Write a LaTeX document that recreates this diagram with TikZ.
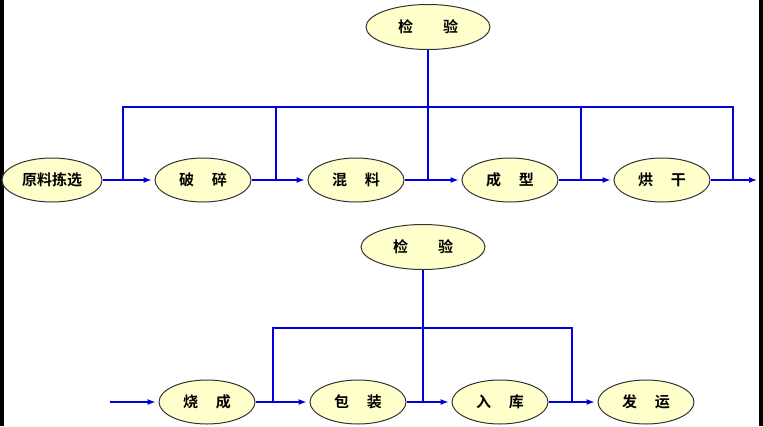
\documentclass[tikz,border=0pt]{standalone}
\usepackage{fontspec}
\newfontfamily\cjk{Noto Sans CJK SC Bold}
\usetikzlibrary{arrows.meta,shapes.geometric}
\definecolor{stepfill}{RGB}{255,255,204}
\definecolor{flowblue}{RGB}{0,0,220}
\tikzset{
  >={Latex[length=8pt,width=6pt]},
  stage/.style={ellipse, draw=black!80, line width=1pt, fill=stepfill,
                minimum width=96pt, minimum height=44pt, inner sep=0pt, font=\cjk\fontsize{15}{15}\selectfont},
  check/.style={stage, minimum width=124pt, minimum height=45pt},
  flow/.style={draw=flowblue, line width=1.1pt},
}
\begin{document}
\begin{tikzpicture}[x=1pt,y=-1pt]
\fill[black] (0,0) rectangle (763,426);
\fill[white] (4,0) rectangle (759,426);
\useasboundingbox (0,0) rectangle (763,426);

% Top row
\node[check] (check1) at (428,27) {检\hspace{2em}验};
\node[stage, minimum width=100pt] (pick) at (52,180) {原料拣选};
\node[stage] (crush) at (203,180) {破\hspace{1.2em}碎};
\node[stage] (mix) at (356,180) {混\hspace{1.2em}料};
\node[stage] (shape) at (510,180) {成\hspace{1.2em}型};
\node[stage] (dry) at (662,180) {烘\hspace{1.2em}干};
\coordinate (out1) at (760,180);

\foreach \a/\b in {pick/crush, crush/mix, mix/shape, shape/dry, dry/out1}
  \draw[flow,->,shorten >=3pt] (\a.east) -- (\b.west |- \a.east) ;
\draw[flow] (check1.south) -- (428,107);
\draw[flow] (123,180) -- (123,107) -- (733,107) -- (733,180);
\foreach \x in {276,428,581}
  \draw[flow] (\x,107) -- (\x,180);

% Bottom row
\node[check] (check2) at (423,247) {检\hspace{2em}验};
\node[stage] (fire) at (207,402) {烧\hspace{1.2em}成};
\node[stage] (pack) at (358,402) {包\hspace{1.2em}装};
\node[stage] (store) at (500,402) {入\hspace{1.2em}库};
\node[stage] (ship) at (646,402) {发\hspace{1.2em}运};
\coordinate (in2) at (110,402);

\draw[flow,->,shorten >=3pt] (in2) -- (fire.west);
\foreach \a/\b in {fire/pack, pack/store, store/ship}
  \draw[flow,->,shorten >=3pt] (\a.east) -- (\b.west);
\draw[flow] (check2.south) -- (423,328);
\draw[flow] (273,402) -- (273,328) -- (572,328) -- (572,402);
\draw[flow] (423,328) -- (423,402);
\end{tikzpicture}
\end{document}
